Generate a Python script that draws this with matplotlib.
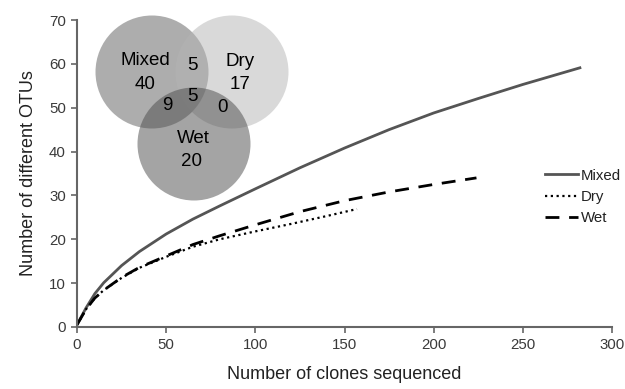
import numpy as np
import matplotlib
matplotlib.use('Agg')
import matplotlib.pyplot as plt
from matplotlib.patches import Circle

plt.rcParams['font.family'] = ['Liberation Sans', 'DejaVu Sans']

# Rarefaction curves
mixed_x = [0, 5, 10, 15, 25, 35, 50, 65, 80, 100, 125, 150, 175, 200, 225, 250, 282]
mixed_y = [0.5, 4.3, 7.6, 10.1, 14.0, 17.2, 21.2, 24.6, 27.6, 31.5, 36.3, 40.8, 45.0, 48.8, 52.1, 55.3, 59.1]

dry_x = [0, 5, 10, 15, 25, 35, 50, 65, 80, 100, 120, 140, 157]
dry_y = [0.5, 4.0, 6.6, 8.4, 11.2, 13.5, 16.0, 18.3, 20.0, 21.8, 23.5, 25.3, 26.9]

wet_x = [0, 5, 10, 15, 25, 35, 50, 65, 80, 100, 125, 150, 175, 200, 224]
wet_y = [0.5, 4.0, 6.6, 8.4, 11.3, 13.6, 16.2, 18.8, 20.8, 23.3, 26.3, 28.8, 30.8, 32.5, 34.0]

# Venn counts
venn_labels = ['Mixed', 'Dry', 'Wet']
venn_only = [40, 17, 20]
mixed_dry = 5
mixed_wet = 9
dry_wet = 0
all_three = 5

fig = plt.figure(figsize=(6.25, 3.89), dpi=100)
ax = fig.add_axes([77/625, 1-327/389, (612-77)/625, (327-20)/389])

ax.plot(mixed_x, mixed_y, color='#555555', lw=2, label='Mixed')
ax.plot(dry_x, dry_y, color='black', lw=1.6, ls=(0, (1, 1.6)), label='Dry')
ax.plot(wet_x, wet_y, color='black', lw=2, ls=(0, (5, 3.5)), label='Wet')

ax.set_xlim(0, 300)
ax.set_ylim(0, 70)
ax.set_xticks(np.arange(0, 301, 50))
ax.set_yticks(np.arange(0, 71, 10))
for s in ['top', 'right']:
    ax.spines[s].set_visible(False)
for s in ['left', 'bottom']:
    ax.spines[s].set_color('#666666')
    ax.spines[s].set_linewidth(1.5)
ax.tick_params(direction='out', length=4, width=1.2, color='#666666',
               labelsize=10.8, labelcolor='#3a3a3a', pad=4)
ax.set_xlabel('Number of clones sequenced', fontsize=13, color='#222222', labelpad=10)
ax.set_ylabel('Number of different OTUs', fontsize=13, color='#222222', labelpad=9)

leg = ax.legend(loc='center left', bbox_to_anchor=(545/625, 1-197/389),
                bbox_transform=fig.transFigure, frameon=False, fontsize=10.8,
                handlelength=2.2, handletextpad=0.2, labelspacing=0.5,
                borderaxespad=0, borderpad=0)
for t in leg.get_texts():
    t.set_color('#222222')

# Venn diagram drawn on an overlay in pixel units
vax = fig.add_axes([0, 0, 1, 1])
vax.set_xlim(0, 625)
vax.set_ylim(389, 0)
vax.axis('off')
vax.patch.set_alpha(0)

centers = [(152, 72), (232, 72), (194, 144)]
colors = ['#5d5d5d', '#b4b4b4', '#4a4a4a']
for (cx, cy), c in zip(centers, colors):
    vax.add_patch(Circle((cx, cy), 56.5, facecolor=c, alpha=0.5, edgecolor='none'))

fs = 13.5
vax.text(145, 60, venn_labels[0], ha='center', va='center', fontsize=fs)
vax.text(145, 84, str(venn_only[0]), ha='center', va='center', fontsize=fs)
vax.text(240, 61, venn_labels[1], ha='center', va='center', fontsize=fs)
vax.text(240, 84, str(venn_only[1]), ha='center', va='center', fontsize=fs)
vax.text(193, 138, venn_labels[2], ha='center', va='center', fontsize=fs)
vax.text(192, 161, str(venn_only[2]), ha='center', va='center', fontsize=fs)
vax.text(192, 65, str(mixed_dry), ha='center', va='center', fontsize=fs)
vax.text(192, 96, str(all_three), ha='center', va='center', fontsize=fs)
vax.text(167, 105, str(mixed_wet), ha='center', va='center', fontsize=fs)
vax.text(222, 107, str(dry_wet), ha='center', va='center', fontsize=fs)

fig.savefig('out.png', dpi=100)
